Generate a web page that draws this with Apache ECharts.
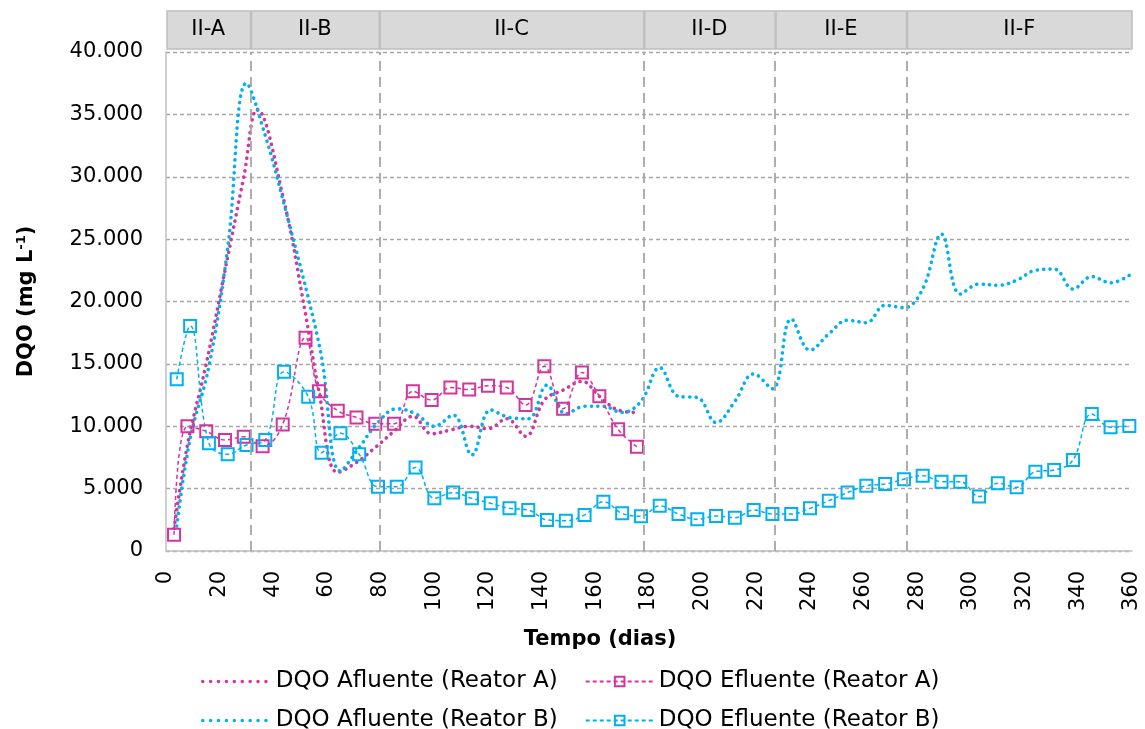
<!DOCTYPE html>
<html><head><meta charset="utf-8">
<script src="https://cdn.jsdelivr.net/npm/echarts@6/dist/echarts.min.js"></script>
<style>html,body{margin:0;padding:0;background:#fff}#chart{width:1145px;height:729px}</style>
</head><body><div id="chart"></div>
<script>
// ---- phases (header) ----
const phaseNames = ['II-A', 'II-B', 'II-C', 'II-D', 'II-E', 'II-F'];
const phaseStart = [0, 31.5, 79.5, 178, 227, 276];
const phaseEnd = [31.5, 79.5, 178, 227, 276, 360];

// ---- axis ticks ----
const xTicks = { min: 0, max: 360, interval: 20 };
const yTicks = { min: 0, max: 40000, interval: 5000 };

// ---- Reator A ----
const daysAflA = [3, 8, 15, 22, 29, 34, 43.5, 52, 57, 64, 71, 78, 85, 92, 99, 106, 113, 120, 127, 134, 141, 148, 155, 161.5, 168.5, 175.5];
const aflA = [1800, 8500, 15000, 22500, 30000, 35400, 28500, 19000, 12800, 6300, 7100, 8300, 9600, 10800, 9400, 9700, 10000, 9800, 10600, 9200, 12100, 12900, 13600, 12400, 11300, 11100];
const daysEflA = [3, 8, 15, 22, 29, 36, 43.5, 52, 57, 64, 71, 78, 85, 92, 99, 106, 113, 120, 127, 134, 141, 148, 155, 161.5, 168.5, 175.5];
const eflA = [1300, 10000, 9600, 8900, 9150, 8400, 10150, 17100, 12800, 11250, 10700, 10200, 10200, 12800, 12100, 13100, 12950, 13250, 13100, 11700, 14800, 11400, 14300, 12400, 9750, 8350];

// ---- Reator B ----
const daysB = [4, 9, 16, 23, 30, 37, 44, 53, 58, 65, 72, 79, 86, 93, 100, 107, 114, 121, 128, 135, 142, 149, 156, 163, 170, 177, 184, 191, 198, 205, 212, 219, 226, 233, 240, 247, 254, 261, 268, 275, 282, 289, 296, 303, 310, 317, 324, 331, 338, 345, 352, 359];
const aflB = [2000, 9000, 14800, 24300, 37500, 33300, 27800, 20300, 15500, 6400, 8300, 10300, 11400, 11000, 10000, 10900, 7700, 11300, 10700, 10600, 13300, 11000, 11600, 11600, 11100, 12000, 14700, 12400, 12300, 10300, 12000, 14200, 13000, 18600, 16100, 17400, 18500, 18300, 19700, 19500, 21000, 25400, 20600, 21400, 21300, 21700, 22500, 22600, 21000, 22000, 21500, 22100];
const eflB = [13760, 18040, 8630, 7750, 8500, 8900, 14370, 12370, 7880, 9430, 7750, 5150, 5150, 6700, 4220, 4680, 4220, 3820, 3420, 3290, 2490, 2430, 2890, 3950, 3020, 2790, 3620, 2970, 2540, 2810, 2670, 3290, 2970, 2970, 3420, 4030, 4680, 5240, 5370, 5750, 6040, 5560, 5560, 4360, 5430, 5110, 6360, 6490, 7290, 10980, 9920, 10020];

const seriesNames = ['DQO Afluente (Reator A)', 'DQO Efluente (Reator A)', 'DQO Afluente (Reator B)', 'DQO Efluente (Reator B)'];

const MAG = '#D2359E';
const CYA = '#00B0F0';
const FONT = 'DejaVu Sans';
const zip = (xs, ys) => xs.map((x, i) => [x, ys[i]]);
const fmt = v => v === 0 ? '0' : String(v).replace(/\B(?=(\d{3})+(?!\d))/g, '.');

const dotStyle = color => ({ color, width: 3.6, type: [0.1, 6.3], cap: 'round' });
function dotted(name, color, xs, ys, extra) {
  return Object.assign({
    name, type: 'line', data: zip(xs, ys), smooth: 0.4, symbol: 'none', showSymbol: false,
    lineStyle: dotStyle(color),
    itemStyle: { color }, z: 3
  }, extra || {});
}
function dashed(name, color, xs, ys) {
  return {
    name, type: 'line', data: zip(xs, ys), smooth: 0.4, symbol: 'rect', symbolSize: 12, showSymbol: true,
    lineStyle: { color, width: 1.5, type: [4, 3] },
    itemStyle: { color: 'rgba(0,0,0,0)', borderColor: color, borderWidth: 2 }, z: 4
  };
}
const hiddenIcon = { color: 'rgba(0,0,0,0)', borderWidth: 0 };
const legendDotted = (name, color) => ({ name, itemStyle: hiddenIcon, lineStyle: { color, width: 3.4, type: [0.1, 7.8], cap: 'round' } });

const chart = echarts.init(document.getElementById('chart'), null, { renderer: 'canvas' });
const legendCommon = {
  left: 196, itemWidth: 68, itemHeight: 12, itemGap: 27,
  textStyle: { fontSize: 23, fontFamily: FONT, color: '#000' }
};
chart.setOption({
  animation: false,
  textStyle: { fontFamily: FONT },
  grid: [
    { left: 166, right: 13, top: 52, bottom: 178 },
    { left: 166, right: 13, top: 11, height: 38 }
  ],
  legend: [
    Object.assign({ data: [legendDotted(seriesNames[0], MAG), seriesNames[1]], top: 665 }, legendCommon),
    Object.assign({ data: [legendDotted(seriesNames[2], CYA), seriesNames[3]], top: 704 }, legendCommon)
  ],
  xAxis: [
    {
      type: 'value', gridIndex: 0, min: xTicks.min, max: xTicks.max, interval: xTicks.interval,
      name: 'Tempo (dias)', nameLocation: 'middle', nameGap: 78,
      nameTextStyle: { fontSize: 21, fontWeight: 'bold', fontFamily: FONT, color: '#000', padding: [0, 98, 0, 0] },
      axisLine: { show: true, lineStyle: { color: '#BFBFBF', width: 1.5 } },
      axisTick: { show: false },
      axisLabel: { rotate: 90, margin: 20, fontSize: 21, fontFamily: FONT, color: '#000' },
      splitLine: { show: false }
    },
    { type: 'value', gridIndex: 1, min: 0, max: 360, show: false }
  ],
  yAxis: [
    {
      type: 'value', gridIndex: 0, min: yTicks.min, max: yTicks.max, interval: yTicks.interval,
      name: 'DQO (mg L{sup|-1})', nameLocation: 'middle', nameGap: 128,
      nameTextStyle: {
        fontSize: 21, fontWeight: 'bold', fontFamily: FONT, color: '#000',
        rich: { sup: { fontSize: 13, fontWeight: 'bold', fontFamily: FONT, color: '#000', verticalAlign: 'top', padding: [0, 0, 10, 0] } }
      },
      axisLine: { show: true, lineStyle: { color: '#BFBFBF', width: 1.5 } },
      axisTick: { show: false },
      axisLabel: { margin: 23, fontSize: 21, fontFamily: FONT, color: '#000', formatter: fmt },
      splitLine: { show: true, lineStyle: { color: '#A6A6A6', width: 1.3, type: [4, 3] } }
    },
    { type: 'value', gridIndex: 1, min: 0, max: 1, show: false }
  ],
  series: [
    dotted(seriesNames[0], MAG, daysAflA, aflA, {
      markLine: {
        silent: true, symbol: ['none', 'none'], label: { show: false },
        lineStyle: { color: '#A6A6A6', type: [10, 6], width: 1.8, cap: 'butt' },
        data: phaseEnd.slice(0, -1).map(x => ({ xAxis: x }))
      }
    }),
    dashed(seriesNames[1], MAG, daysEflA, eflA),
    dotted(seriesNames[2], CYA, daysB, aflB),
    dashed(seriesNames[3], CYA, daysB, eflB),
    {
      type: 'custom', xAxisIndex: 1, yAxisIndex: 1, silent: true,
      data: phaseNames.map((n, i) => [phaseStart[i], phaseEnd[i]]),
      encode: { x: [0, 1] },
      renderItem: (params, api) => {
        const p0 = api.coord([api.value(0), 1]);
        const p1 = api.coord([api.value(1), 0]);
        return {
          type: 'group', children: [
            { type: 'rect', shape: { x: p0[0] + 1, y: p0[1], width: p1[0] - p0[0] - 1, height: p1[1] - p0[1] },
              style: { fill: '#D9D9D9', stroke: '#BFBFBF', lineWidth: 1.5 } },
            { type: 'text', style: { text: phaseNames[params.dataIndex], x: (p0[0] + p1[0]) / 2, y: (p0[1] + p1[1]) / 2,
              align: 'center', verticalAlign: 'middle', fontSize: 21, fontFamily: FONT, fill: '#000' } }
          ]
        };
      }
    }
  ]
});
</script></body></html>
